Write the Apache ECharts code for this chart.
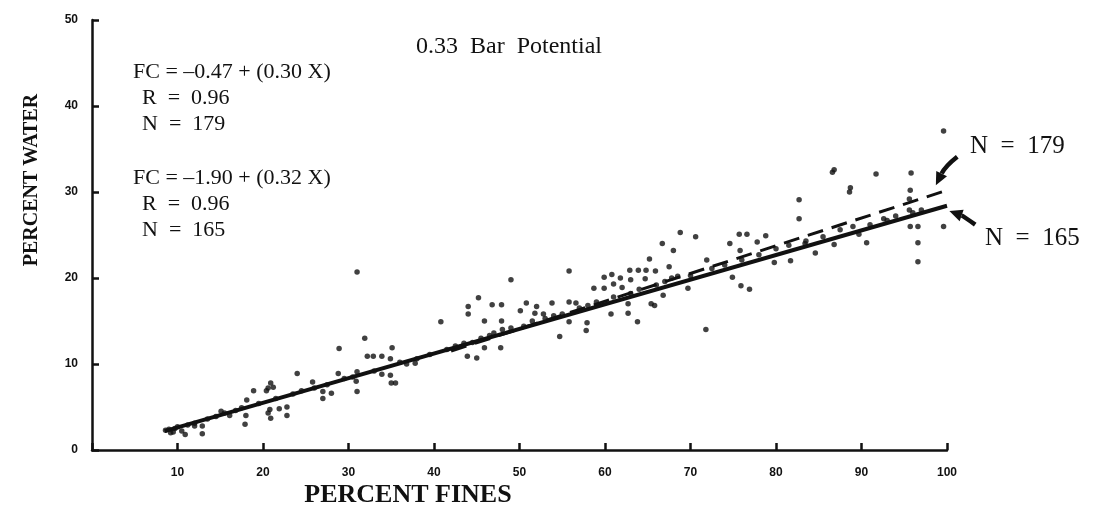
<!DOCTYPE html>
<html><head><meta charset="utf-8">
<script src="https://cdn.jsdelivr.net/npm/echarts@6/dist/echarts.min.js"></script>
<style>html,body{margin:0;padding:0;background:#fff}#c{width:1099px;height:514px}</style>
</head><body><div id="c"></div>
<script>
// ---- data ----
const xAxisTitle = 'PERCENT FINES';
const yAxisTitle = 'PERCENT WATER';
const xTickLabels = ['', '10', '20', '30', '40', '50', '60', '70', '80', '90', '100'];
const yTickLabels = ['0', '10', '20', '30', '40', '50'];

// scattered observations [percent fines, percent water]
const offLinePoints = [
  [8.6,2.3],[9.2,2.0],[9.7,2.5],[10.9,1.8],[12.0,2.8],[12.9,1.9],[12.9,2.8],[15.1,4.5],[16.1,4.0],
  [17.9,3.0],[18.0,4.0],[18.1,5.8],[18.9,6.9],[20.4,6.9],[20.6,7.2],[20.9,7.8],[21.2,7.3],[20.6,4.3],
  [20.8,4.7],[20.9,3.7],[21.9,4.8],[22.8,5.0],[22.8,4.0],[24.0,8.9],[25.8,7.9],[27.0,6.8],[27.0,6.0],
  [28.0,6.6],[28.9,11.8],[28.8,8.9],[31.0,9.1],[30.9,8.0],[31.0,6.8],[31.0,20.7],[31.9,13.0],[32.2,10.9],
  [32.9,10.9],[33.9,10.9],[35.1,11.9],[34.9,10.6],[33.9,8.8],[34.9,8.7],[35.0,7.8],[35.5,7.8],[36.8,10.0],
  [37.8,10.1],[40.8,14.9],[44.0,16.7],[44.0,15.8],[45.2,17.7],[43.9,10.9],[45.0,10.7],[45.9,15.0],
  [45.9,11.9],[46.8,16.9],[47.9,16.9],[47.9,15.0],[47.8,11.9],[49.0,19.8],[50.1,16.2],[50.8,17.1],
  [52.0,16.7],[51.8,15.9],[52.8,15.8],[53.8,17.1],[54.7,13.2],[55.8,20.8],[55.8,17.2],[56.6,17.1],
  [55.8,14.9],[57.9,14.8],[57.8,13.9],[58.7,18.8],[59.9,20.1],[59.9,18.8],[60.8,20.4],[60.7,15.8],
  [61.0,19.3],[61.8,20.0],[62.9,20.9],[63.0,19.8],[63.9,20.9],[64.8,20.9],[65.9,20.8],[65.2,22.2],
  [62.0,18.9],[62.7,17.0],[62.7,15.9],[63.8,14.9],[65.4,17.0],[65.8,16.8],[66.8,18.0],[66.7,24.0],
  [68.8,25.3],[68.0,23.2],[70.6,24.8],[67.5,21.3],[64.7,19.9],[69.7,18.8],[67.8,20.0],[71.9,22.1],
  [71.8,14.0],[74.6,24.0],[75.7,25.1],[76.6,25.1],[75.8,23.2],[74.9,20.1],[75.9,19.1],[76.9,18.7],
  [77.8,24.2],[78.8,24.9],[79.8,21.8],[81.7,22.0],[82.7,29.1],[82.7,26.9],[84.6,22.9],[86.6,32.3],
  [86.8,32.6],[88.7,30.5],[88.6,30.0],[86.8,23.9],[89.7,25.1],[90.6,24.1],[91.7,32.1],[95.8,32.2],
  [95.7,30.2],[95.6,29.2],[95.6,27.9],[95.7,26.0],[96.6,26.0],[96.6,24.1],[96.6,21.9],[99.6,26.0],
  [99.6,37.1],[92.6,26.9],[83.4,24.0]
];
const onLinePoints = [
  [9.0,2.4],[9.5,2.1],[10.0,2.7],[10.5,2.2],[11.2,2.9],[12.0,3.1],[13.5,3.6],[14.5,3.9],[15.5,4.3],
  [16.8,4.6],[17.5,4.9],[19.5,5.4],[21.5,6.0],[23.5,6.5],[24.5,6.9],[26.0,7.2],[27.5,7.6],[29.5,8.3],
  [30.5,8.5],[33.0,9.2],[36.0,10.2],[38.0,10.6],[39.5,11.1],[41.5,11.7],[42.5,12.1],[43.5,12.4],
  [44.5,12.5],[45.5,13.0],[46.5,13.3],[47.0,13.6],[48.0,14.0],[49.0,14.2],[50.5,14.4],[51.5,15.0],
  [53.0,15.3],[54.0,15.6],[55.0,15.8],[57.0,16.5],[58.0,16.8],[59.0,17.2],[61.0,17.8],[63.0,18.2],
  [64.0,18.7],[66.0,19.2],[67.0,19.6],[68.5,20.2],[70.0,20.3],[72.5,21.1],[74.0,21.5],[76.0,22.1],
  [78.0,22.7],[80.0,23.4],[81.5,23.8],[83.5,24.3],[85.5,24.8],[87.5,25.6],[89.0,26.0],[91.0,26.2],
  [93.0,26.7],[94.0,27.2],[96.0,27.6],[97.0,27.9]
];
// regression lines as drawn (end points)
const solidLine165 = [[8.5,2.2],[100,28.4]];
const dashedLine179 = [[42,11.5],[100,30.2]];

// annotation texts
const titleText = '0.33  Bar  Potential';
const eqBlock179 = ['FC = –0.47 + (0.30 X)', 'R  =  0.96', 'N  =  179'];
const eqBlock165 = ['FC = –1.90 + (0.32 X)', 'R  =  0.96', 'N  =  165'];
const sideLabels = ['N  =  179', 'N  =  165'];
// arrows (data coordinates): tail, control, tip
const arrow179 = [[101.2,34.1],[99.8,33.0],[98.8,31.0]];
const arrow165 = [[103.3,26.2],[101.9,27.2],[100.5,27.7]];

// ---- chart ----
const chart = echarts.init(document.getElementById('c'), null, {renderer:'canvas'});
const INK = '#111';
const tickFont = {fontFamily:'"Liberation Sans", Arial, sans-serif', fontWeight:'bold', fontSize:12, color:INK};
const serif = '"Liberation Serif", "Times New Roman", serif';

chart.setOption({
  backgroundColor:'#fff',
  animation:false,
  grid:{left:92, right:152, top:20, bottom:64},
  xAxis:{
    type:'value', min:0, max:100, interval:10,
    axisLine:{lineStyle:{color:INK, width:2.5}},
    axisTick:{inside:true, length:7, lineStyle:{color:INK, width:2.5}},
    splitLine:{show:false},
    axisLabel:Object.assign({margin:17, formatter:(v)=>xTickLabels[Math.round(v/10)]}, tickFont)
  },
  yAxis:{
    type:'value', min:0, max:50, interval:10,
    axisLine:{lineStyle:{color:INK, width:2.5}},
    axisTick:{inside:true, length:7, lineStyle:{color:INK, width:2.5}},
    splitLine:{show:false},
    axisLabel:Object.assign({margin:14, formatter:(v)=>yTickLabels[Math.round(v/10)]}, tickFont)
  },
  series:[
    {type:'line', data:solidLine165, symbol:'none', lineStyle:{color:INK, width:4}, z:3},
    {type:'line', data:dashedLine179, symbol:'none', lineStyle:{color:INK, width:3, type:[16,9]}, z:3},
    {type:'scatter', data:offLinePoints.concat(onLinePoints), symbolSize:5.5, itemStyle:{color:INK}, z:4}
  ]
});

function txt(s, x, y, size, weight, extra){
  return Object.assign({type:'text', x:x, y:y, silent:true,
    style:Object.assign({text:s, font:(weight||'normal')+' '+size+'px '+serif, fill:INK, textVerticalAlign:'middle', verticalAlign:'middle'}, extra||{})});
}
function arrow(a){
  const p = a.map(d=>chart.convertToPixel({gridIndex:0}, d));
  const [t,c,h] = p;
  let dx = h[0]-c[0], dy = h[1]-c[1]; const L = Math.hypot(dx,dy); dx/=L; dy/=L;
  const nx=-dy, ny=dx, hl=11, hw=6;
  const bx = h[0]-dx*hl, by = h[1]-dy*hl;
  return [
    {type:'bezierCurve', silent:true, shape:{x1:t[0],y1:t[1],cpx1:c[0],cpy1:c[1],x2:bx,y2:by}, style:{stroke:INK, lineWidth:4.5, fill:null}},
    {type:'polygon', silent:true, shape:{points:[[h[0]+dx*2,h[1]+dy*2],[bx+nx*hw,by+ny*hw],[bx-nx*hw,by-ny*hw]]}, style:{fill:INK}}
  ];
}

const g = [];
const yt = txt(yAxisTitle, 32, 180, 20, 'bold', {textAlign:'center', align:'center'});
yt.rotation = Math.PI/2;
g.push(yt);
g.push(txt(xAxisTitle, 408, 495, 26, 'bold', {textAlign:'center', align:'center'}));
g.push(txt(titleText, 416, 47, 24));
const ys1 = [72,98,124], ys2 = [178,204,230];
eqBlock179.forEach((s,i)=>g.push(txt(s, i===0?133:142, ys1[i], 22)));
eqBlock165.forEach((s,i)=>g.push(txt(s, i===0?133:142, ys2[i], 22)));
g.push(txt(sideLabels[0], 970, 146, 25));
g.push(txt(sideLabels[1], 985, 238, 25));
arrow(arrow179).forEach(e=>g.push(e));
arrow(arrow165).forEach(e=>g.push(e));
chart.setOption({graphic:{elements:g}});
</script></body></html>
